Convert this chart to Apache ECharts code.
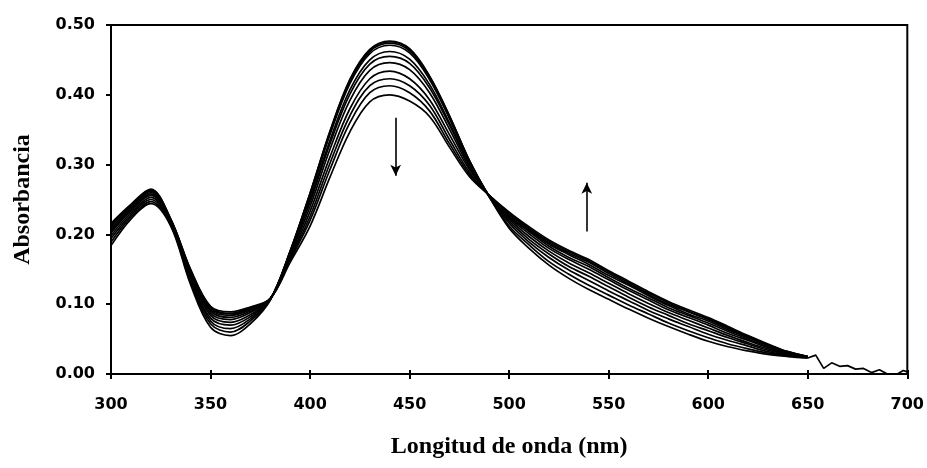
<!DOCTYPE html>
<html>
<head>
<meta charset="utf-8">
<script src="https://cdn.jsdelivr.net/npm/echarts@6/dist/echarts.min.js"></script>
<style>
html,body{margin:0;padding:0;background:#fff;}
#chart{width:927px;height:468px;}
</style>
</head>
<body>
<div id="chart"></div>
<script>
// Wavelength grid (nm) for the spectra
const wavelengths = [300,310,320,330,340,350,360,370,380,390,400,410,420,430,440,450,460,470,480,490,500,510,520,530,540,550,560,570,580,590,600,610,620,630,640,650];

// Absorbance of each recorded spectrum
const s0  = [0.184,0.222,0.244,0.212,0.128,0.067,0.055,0.072,0.106,0.176,0.259,0.348,0.422,0.465,0.477,0.466,0.427,0.370,0.306,0.254,0.209,0.180,0.156,0.137,0.121,0.107,0.093,0.080,0.068,0.057,0.047,0.039,0.033,0.028,0.025,0.023];
const s1  = [0.189,0.225,0.247,0.214,0.131,0.072,0.060,0.076,0.106,0.176,0.259,0.347,0.421,0.464,0.476,0.465,0.426,0.370,0.306,0.254,0.212,0.185,0.161,0.143,0.127,0.113,0.099,0.086,0.073,0.062,0.052,0.043,0.036,0.030,0.026,0.023];
const s2  = [0.194,0.228,0.250,0.215,0.135,0.076,0.065,0.079,0.107,0.175,0.257,0.345,0.419,0.462,0.474,0.463,0.425,0.368,0.305,0.254,0.216,0.189,0.167,0.149,0.134,0.119,0.105,0.091,0.079,0.068,0.057,0.048,0.040,0.032,0.027,0.024];
const s3  = [0.198,0.231,0.253,0.216,0.137,0.080,0.070,0.082,0.107,0.175,0.255,0.343,0.416,0.459,0.471,0.460,0.422,0.366,0.304,0.255,0.219,0.193,0.172,0.154,0.140,0.125,0.110,0.096,0.084,0.072,0.062,0.052,0.043,0.034,0.028,0.024];
const s4  = [0.202,0.234,0.256,0.218,0.140,0.084,0.074,0.085,0.107,0.173,0.250,0.335,0.407,0.450,0.462,0.451,0.415,0.360,0.301,0.255,0.222,0.197,0.176,0.159,0.145,0.130,0.115,0.101,0.088,0.077,0.066,0.055,0.045,0.036,0.029,0.024];
const s5  = [0.205,0.236,0.258,0.219,0.143,0.087,0.078,0.088,0.107,0.172,0.246,0.330,0.401,0.444,0.455,0.445,0.410,0.357,0.299,0.255,0.224,0.201,0.180,0.164,0.150,0.135,0.120,0.106,0.092,0.081,0.070,0.058,0.048,0.038,0.030,0.024];
const s6  = [0.208,0.238,0.260,0.220,0.145,0.090,0.081,0.090,0.108,0.170,0.240,0.322,0.392,0.435,0.446,0.436,0.403,0.351,0.296,0.255,0.226,0.204,0.183,0.167,0.154,0.138,0.123,0.109,0.095,0.084,0.073,0.061,0.050,0.039,0.030,0.025];
const s7  = [0.211,0.240,0.262,0.220,0.146,0.092,0.084,0.092,0.108,0.167,0.233,0.311,0.380,0.423,0.434,0.423,0.393,0.343,0.293,0.255,0.228,0.206,0.186,0.171,0.157,0.141,0.127,0.112,0.098,0.086,0.076,0.063,0.052,0.041,0.031,0.025];
const s8  = [0.213,0.241,0.263,0.221,0.148,0.094,0.086,0.094,0.108,0.165,0.226,0.302,0.370,0.413,0.423,0.413,0.385,0.336,0.289,0.256,0.230,0.208,0.188,0.173,0.160,0.144,0.129,0.114,0.100,0.089,0.078,0.065,0.053,0.042,0.031,0.025];
const s9  = [0.214,0.242,0.264,0.222,0.149,0.096,0.087,0.095,0.108,0.163,0.220,0.293,0.360,0.403,0.413,0.403,0.377,0.330,0.286,0.256,0.231,0.209,0.190,0.175,0.162,0.146,0.131,0.116,0.102,0.090,0.079,0.067,0.054,0.042,0.032,0.025];
const s10 = [0.216,0.243,0.265,0.222,0.150,0.097,0.089,0.096,0.108,0.160,0.212,0.282,0.347,0.390,0.400,0.391,0.369,0.325,0.283,0.256,0.232,0.211,0.192,0.177,0.164,0.148,0.133,0.118,0.104,0.092,0.081,0.068,0.055,0.043,0.032,0.025];

// Noisy common tail beyond 650 nm
const tailWavelengths = [650,654,658,662,666,670,674,678,682,686,690,695,698,700];
const tailValues      = [0.023,0.027,0.008,0.016,0.011,0.012,0.007,0.008,0.002,0.006,0.000,0.000,0.005,0.003];

// Arrows (direction of change): [wavelength, from, to]
const arrowDown = [443, 0.367, 0.284];
const arrowUp   = [539, 0.204, 0.274];

const xTickLabels = ['300','350','400','450','500','550','600','650','700'];
const yTickLabels = ['0.00','0.10','0.20','0.30','0.40','0.50'];

const spectra = [s0,s1,s2,s3,s4,s5,s6,s7,s8,s9,s10];

const chart = echarts.init(document.getElementById('chart'), null, {renderer:'canvas'});

const labelFont = {fontFamily:'DejaVu Sans', fontWeight:'bold', fontSize:16, color:'#000'};
const titleFont = {fontFamily:'Liberation Serif', fontWeight:'bold', fontSize:24, color:'#000'};

const series = spectra.map((arr, i) => ({
  type:'line',
  name:'t'+i,
  data: wavelengths.map((w, j) => [w, arr[j]]),
  showSymbol:false,
  smooth:0.35,
  lineStyle:{color:'#000', width:1.7},
  silent:true,
  z:2
}));

series.push({
  type:'line',
  name:'tail',
  data: tailWavelengths.map((w, j) => [w, tailValues[j]]),
  showSymbol:false,
  lineStyle:{color:'#000', width:1.7},
  silent:true,
  markLine:{
    silent:true,
    symbol:['none','arrow'],
    symbolSize:[8,11],
    label:{show:false},
    lineStyle:{color:'#000', width:1.6, type:'solid'},
    data:[
      [{coord:[arrowDown[0], arrowDown[1]]},{coord:[arrowDown[0], arrowDown[2]]}],
      [{coord:[arrowUp[0], arrowUp[1]]},{coord:[arrowUp[0], arrowUp[2]]}]
    ]
  }
});

const option = {
  animation:false,
  backgroundColor:'#fff',
  grid:{left:111, right:19, top:25, bottom:94, show:true, borderColor:'#000', borderWidth:2, backgroundColor:'transparent'},
  xAxis:[{
    type:'value', min:300, max:700, interval:50,
    name:'Longitud de onda (nm)', nameLocation:'middle', nameGap:61,
    nameTextStyle:titleFont,
    axisLine:{show:true, lineStyle:{color:'#000', width:2}},
    axisTick:{show:true, inside:false, length:5, lineStyle:{color:'#000', width:2}},
    axisLabel:Object.assign({margin:23, formatter:(v)=>xTickLabels[Math.round((v-300)/50)]}, labelFont),
    splitLine:{show:false}
  },{
    type:'value', min:300, max:700, interval:50, position:'bottom',
    axisLine:{show:false},
    axisTick:{show:true, inside:true, length:4, lineStyle:{color:'#000', width:2}},
    axisLabel:{show:false},
    splitLine:{show:false}
  }],
  yAxis:{
    type:'value', min:0, max:0.5, interval:0.1,
    name:'Absorbancia', nameLocation:'middle', nameGap:76, nameRotate:90,
    nameTextStyle:titleFont,
    axisLine:{show:true, lineStyle:{color:'#000', width:2}},
    axisTick:{show:true, inside:false, length:5, lineStyle:{color:'#000', width:2}},
    axisLabel:Object.assign({margin:16, formatter:(v)=>yTickLabels[Math.round(v*10)]}, labelFont),
    splitLine:{show:false}
  },
  series: series
};
chart.setOption(option);
</script>
</body>
</html>
